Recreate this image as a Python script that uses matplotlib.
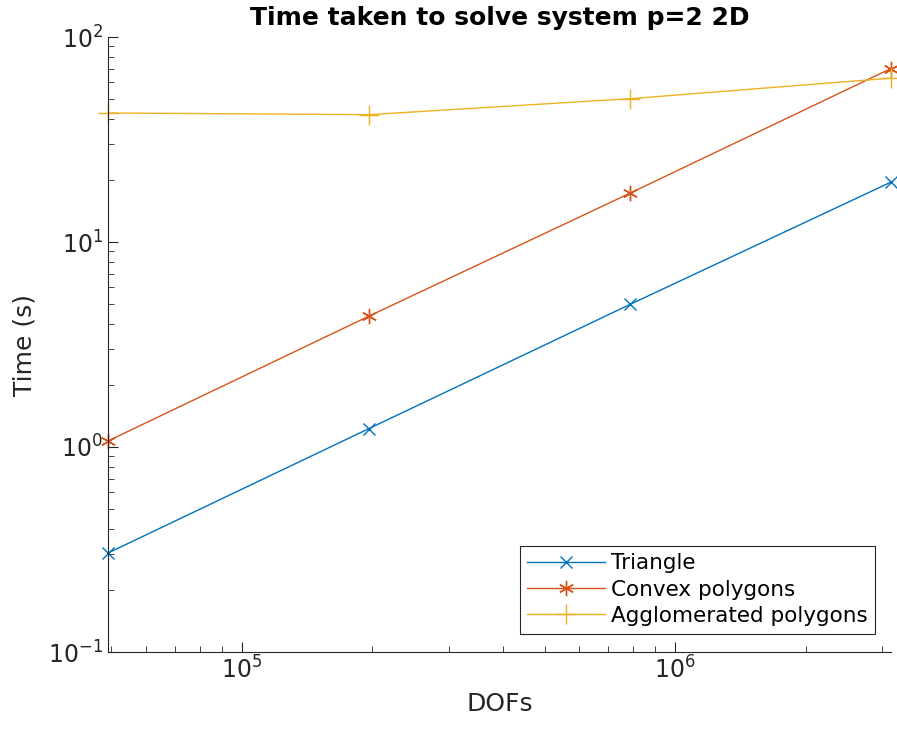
import numpy as np
import matplotlib.pyplot as plt

# data
dofs = [49152, 196608, 786432, 3145728]
t_triangle = [0.304, 1.23, 4.96, 19.6]
t_convex = [1.07, 4.35, 17.3, 70.2]
t_agglom = [42.6, 41.8, 50.0, 63.0]

fig = plt.figure(figsize=(8.97, 7.34), dpi=100)
ax = fig.add_axes([108 / 897, 1 - 652 / 734, (891 - 108) / 897, (652 - 37) / 734])

asterisk = (6, 2, 0)  # matlab style '*'
ax.loglog(dofs, t_triangle, 'x-', color='#0072BD', lw=1, ms=9, mew=1,
          clip_on=False, label='Triangle')
ax.loglog(dofs, t_convex, '-', marker=asterisk, color='#D95319', lw=1, ms=11,
          mew=1, clip_on=False, label='Convex polygons')
ax.loglog(dofs, t_agglom, '+-', color='#EDB120', lw=1, ms=14, mew=1,
          clip_on=False, label='Agglomerated polygons')

ax.set_xlim(dofs[0], dofs[-1])
ax.set_ylim(0.1, 100)

for side in ['top', 'right']:
    ax.spines[side].set_visible(False)
for side in ['left', 'bottom']:
    ax.spines[side].set_color('#262626')
    ax.spines[side].set_linewidth(0.8)

ax.tick_params(which='both', direction='in', colors='#262626', labelsize=17)
ax.tick_params(which='major', length=7)
ax.tick_params(which='minor', length=4)

ax.set_xlabel('DOFs', fontsize=18, color='#262626', labelpad=6)
ax.set_ylabel('Time (s)', fontsize=18, color='#262626', labelpad=8)
ax.set_title('Time taken to solve system p=2 2D', fontsize=18, fontweight='bold', pad=9)

leg = ax.legend(loc='lower right', fontsize=15.5, fancybox=False, framealpha=1,
                edgecolor='#262626', bbox_to_anchor=(0.98, 0.03),
                borderaxespad=0, handlelength=3.6, handletextpad=0.3,
                labelspacing=0.3, borderpad=0.35)
leg.get_frame().set_linewidth(0.8)

fig.savefig('out.png', dpi=100)
